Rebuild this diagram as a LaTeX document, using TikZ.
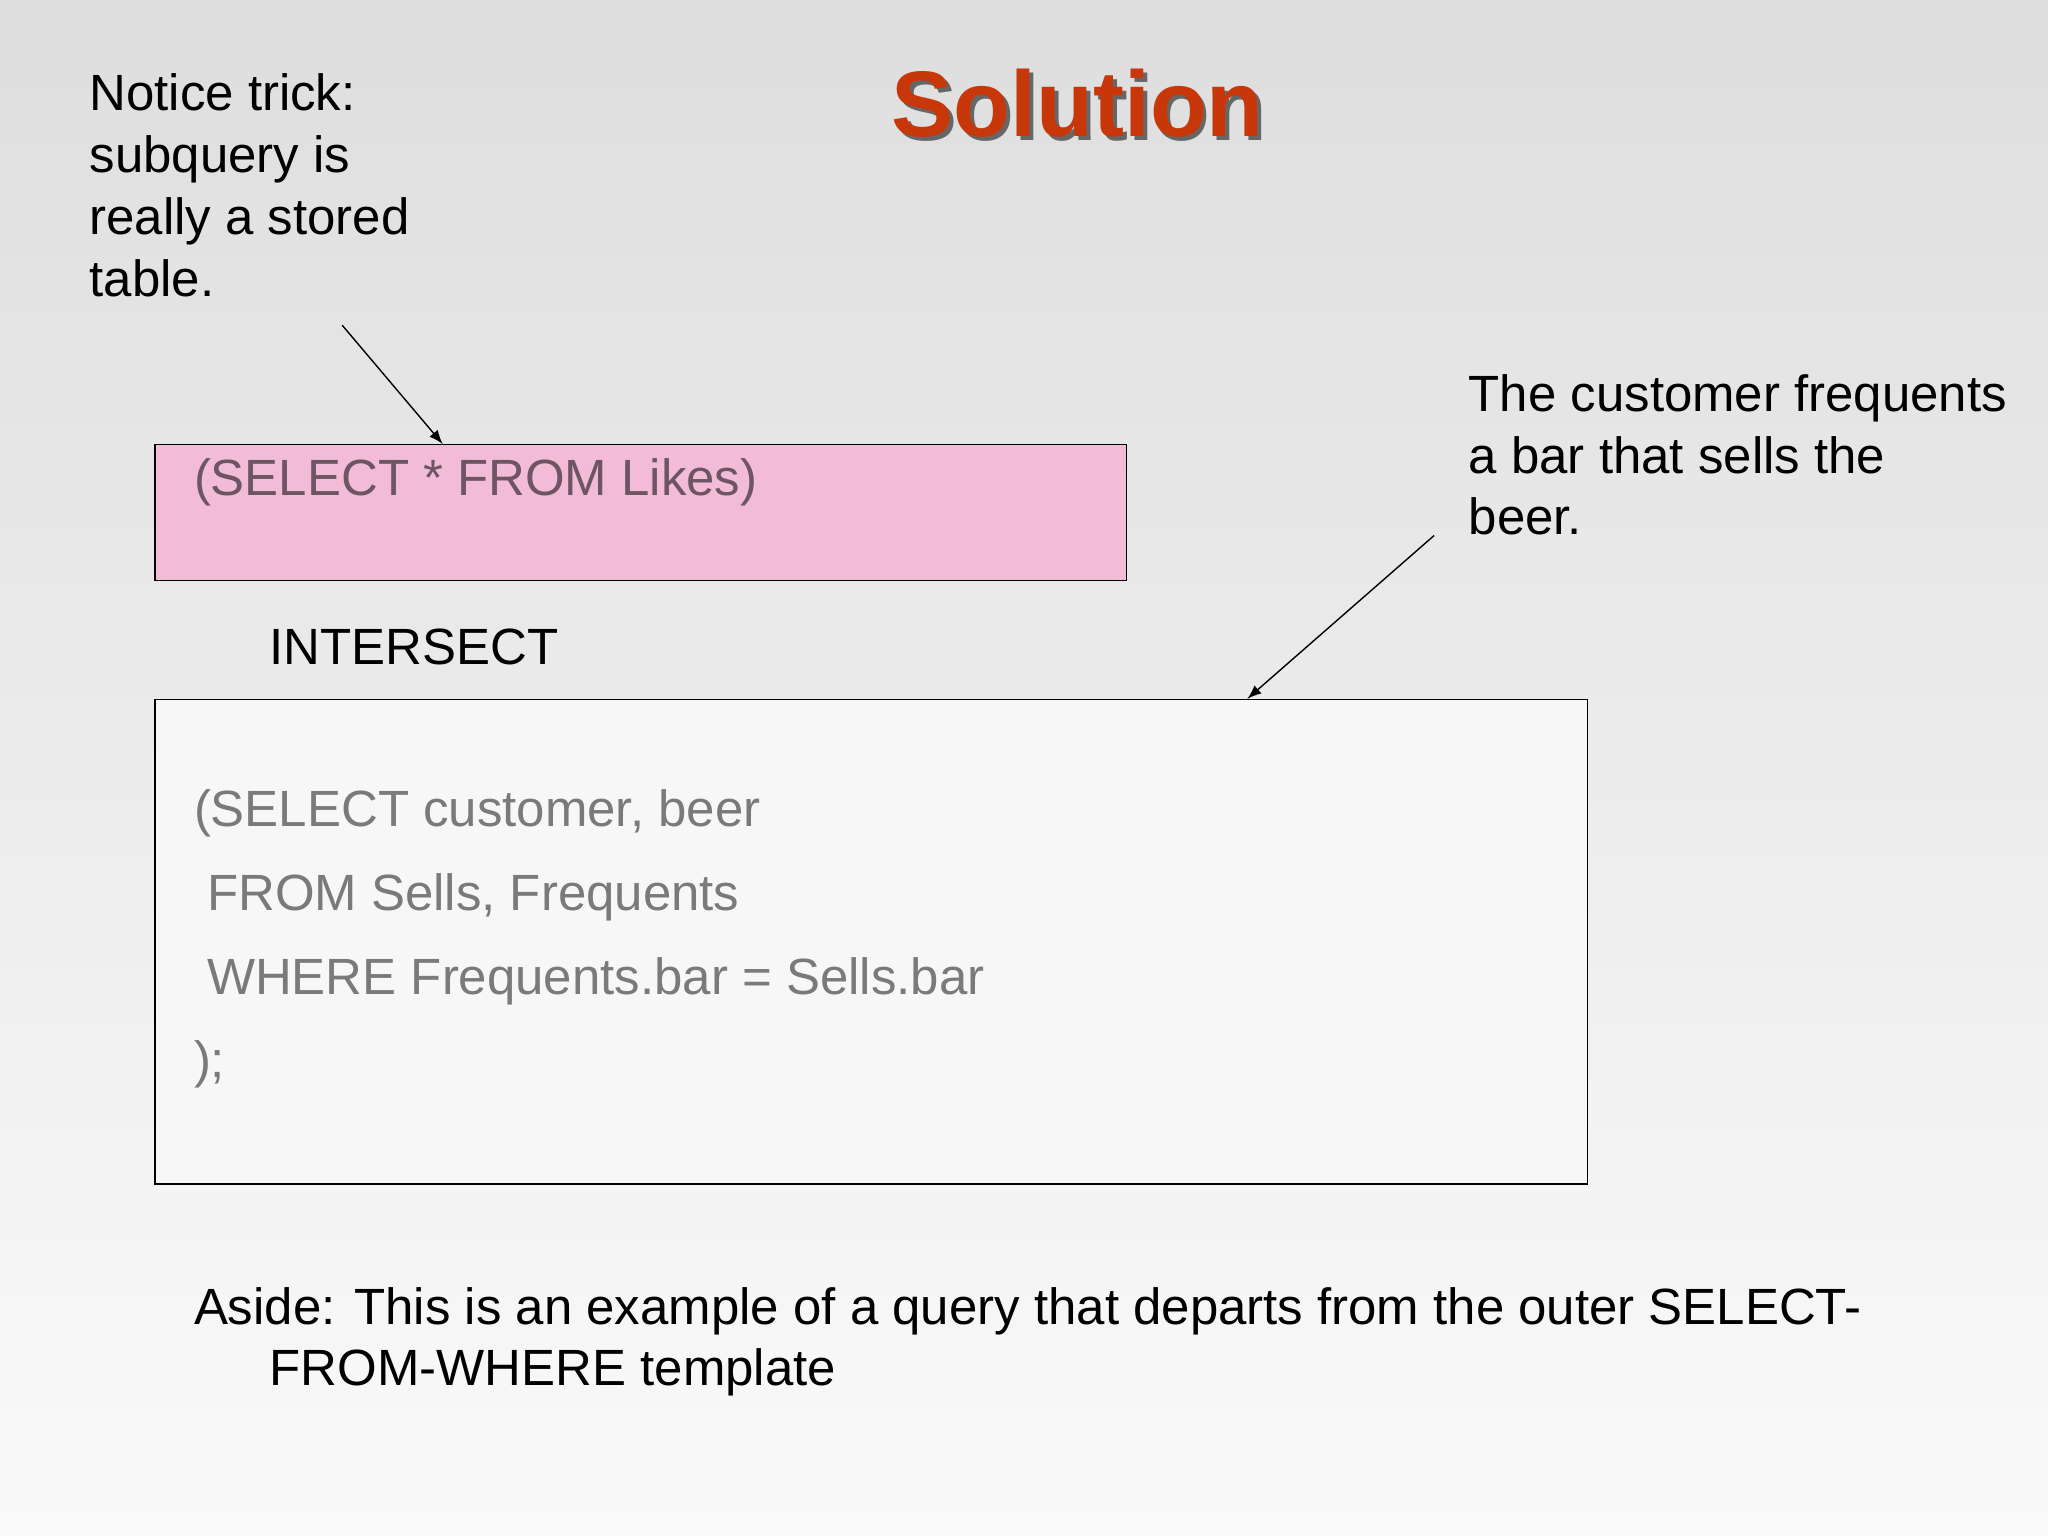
\documentclass[tikz,border=0pt]{standalone}
\usepackage{fontspec}
\setmainfont{Liberation Sans}
\begin{document}
\begin{tikzpicture}[x=0.013061cm,y=-0.013061cm,
  txt/.style={anchor=west,inner sep=0pt,font=\fontsize{14.5}{17.6}\selectfont,align=left},
  code/.style={txt,text=black!52},
  arr/.style={-latex,thin}]
\shade[top color=black!13,bottom color=black!2] (0,0) rectangle (1568,1176);
\useasboundingbox (0,0) rectangle (1568,1176);
\node[text=black!60,font=\fontsize{26.5}{30}\selectfont\bfseries] at (828,82) {Solution};
\node[text={rgb,255:red,200;green,55;blue,10},font=\fontsize{26.5}{30}\selectfont\bfseries] (title) at (825,79) {Solution};
\node[txt,anchor=north west] (note) at (68,56) {Notice trick:\\subquery is\\really a stored\\table.};
\node[draw=black,fill={rgb,255:red,242;green,188;blue,216},minimum width=744*0.013061cm,minimum height=104*0.013061cm,anchor=north west,inner sep=0pt] (likes) at (118,340) {};
\node[txt,text={rgb,255:red,110;green,85;blue,100}] (q1) at (148,369) {(SELECT * FROM Likes)};
\node[txt] (inter) at (206,495) {INTERSECT};
\node[draw=black,fill=black!3,minimum width=1097*0.013061cm,minimum height=371*0.013061cm,anchor=north west,inner sep=0pt] (big) at (118,535) {};
\node[code] (l1) at (148,623) {(SELECT customer, beer};
\node[code] (l2) at (158,687) {FROM Sells, Frequents};
\node[code] (l3) at (158,751) {WHERE Frequents.bar = Sells.bar};
\node[code] (l4) at (148,815) {);};
\node[txt,anchor=north west] (rnote) at (1124,286) {The customer frequents\\a bar that sells the\\beer.};
\node[txt] (a1) at (148,1004) {Aside: This is an example of a query that departs from the outer SELECT-};
\node[txt] (a2) at (206,1051) {FROM-WHERE template};
\coordinate (s1) at (262,249);
\coordinate (e1) at (339,340);
\coordinate (s2) at (1098,410);
\coordinate (e2) at (955,535);
\draw[arr] (s1) -- (e1);
\draw[arr] (s2) -- (e2);
\end{tikzpicture}
\end{document}
